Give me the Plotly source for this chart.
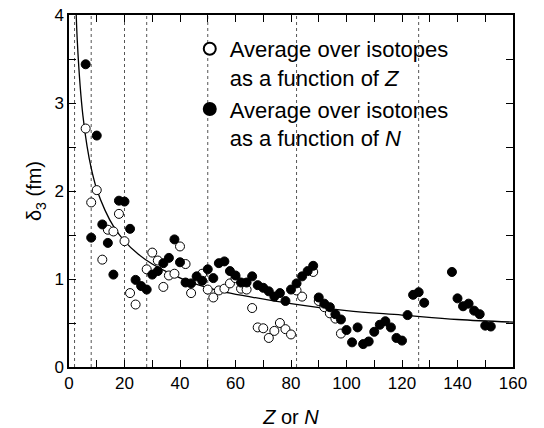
import plotly.graph_objects as go

# Average over isotopes (open circles), as a function of Z
iso_Z = [6, 8, 10, 12, 14, 16, 18, 20, 22, 24,
         28, 30, 32, 34, 36, 38, 40, 42, 44, 48,
         50, 52, 54, 56, 58, 60, 62, 64, 66, 68,
         70, 72, 74, 76, 78, 80, 82, 84, 88, 90,
         92, 94, 96, 98]
iso_delta = [2.71, 1.87, 2.01, 1.22, 1.56, 1.54, 1.74, 1.43, 0.84, 0.71,
             1.11, 1.30, 1.21, 0.91, 1.04, 1.06, 1.37, 1.17, 0.84, 1.06,
             0.88, 0.79, 0.87, 0.89, 0.95, 1.01, 0.89, 0.88, 0.67, 0.45,
             0.44, 0.33, 0.41, 0.50, 0.43, 0.37, 0.87, 0.80, 1.08, 0.75,
             0.68, 0.61, 0.55, 0.38]

# Average over isotones (filled circles), as a function of N
ton_N = [6, 8, 10, 12, 14, 16, 18, 20, 22, 24,
         26, 28, 30, 32, 34, 36, 38, 40, 42, 44,
         46, 48, 50, 52, 54, 56, 58, 60, 62, 64,
         66, 68, 70, 72, 74, 76, 78, 80, 82, 84,
         86, 88, 90, 92, 94, 96, 98, 100, 102, 104,
         106, 108, 110, 112, 114, 116, 118, 120, 122, 124,
         126, 128, 138, 140, 142, 144, 146, 148, 150, 152]
ton_delta = [3.44, 1.47, 2.63, 1.62, 1.41, 1.05, 1.89, 1.88, 1.57, 0.99,
             0.92, 0.88, 1.05, 1.09, 1.18, 1.24, 1.45, 1.19, 0.96, 0.95,
             1.03, 0.98, 1.11, 1.01, 1.18, 1.20, 1.09, 1.04, 0.96, 0.96,
             1.03, 0.93, 0.90, 0.86, 0.80, 0.84, 0.75, 0.88, 0.95, 1.03,
             1.09, 1.15, 0.79, 0.72, 0.68, 0.60, 0.54, 0.42, 0.28, 0.45,
             0.26, 0.29, 0.40, 0.48, 0.52, 0.45, 0.33, 0.30, 0.59, 0.82,
             0.85, 0.73, 1.08, 0.78, 0.69, 0.72, 0.64, 0.60, 0.47, 0.46]

# Fitted curve
curve_x = [2.6, 3, 4, 5, 6.5, 8, 10, 13, 16, 20, 25, 30, 36, 45, 55, 65, 80, 100, 120, 140, 160]
curve_y = [4.0, 3.7, 3.2, 2.86, 2.51, 2.26, 2.02, 1.78, 1.60, 1.43, 1.28, 1.17, 1.07, 0.95,
           0.86, 0.80, 0.72, 0.64, 0.59, 0.54, 0.51]

# Magic numbers (dotted vertical lines)
magic_numbers = [2, 8, 20, 28, 50, 82, 126]

# Ticks
x_tick_vals = [0, 10, 20, 30, 40, 50, 60, 70, 80, 90, 100, 110, 120, 130, 140, 150, 160]
x_tick_text = ["0", "", "20", "", "40", "", "60", "", "80", "", "100", "", "120", "", "140", "", "160"]
y_tick_vals = [0, 0.5, 1, 1.5, 2, 2.5, 3, 3.5, 4]
y_tick_text = ["0", "", "1", "", "2", "", "3", "", "4"]

FONT = "Liberation Sans, Arial, Helvetica, sans-serif"

fig = go.Figure()

fig.add_trace(go.Scatter(
    x=curve_x, y=curve_y, mode="lines", line=dict(color="black", width=1.3, shape="spline"),
    showlegend=False, hoverinfo="skip"))

fig.add_trace(go.Scatter(
    x=iso_Z, y=iso_delta, mode="markers",
    name="Average over isotopes<br>as a function of <i>Z</i>",
    marker=dict(symbol="circle", size=9, color="white", line=dict(color="black", width=1))))

fig.add_trace(go.Scatter(
    x=ton_N, y=ton_delta, mode="markers",
    name="Average over isotones<br>as a function of <i>N</i>",
    marker=dict(symbol="circle", size=9, color="black", line=dict(color="black", width=1))))

for m in magic_numbers:
    fig.add_shape(type="line", x0=m, x1=m, y0=0, y1=1, xref="x", yref="paper",
                  line=dict(color="#555555", width=1, dash="dot"), layer="below")

axis_common = dict(showline=True, linecolor="black", linewidth=1.5, mirror="ticks",
                   ticks="inside", ticklen=7, tickwidth=1.2, tickcolor="black",
                   showgrid=False, zeroline=False, automargin=False,
                   tickfont=dict(family=FONT, size=17, color="black"))

fig.update_xaxes(range=[0, 160], tickmode="array", tickvals=x_tick_vals, ticktext=x_tick_text,
                 title=dict(text="<i>Z</i> or <i>N</i>", font=dict(family=FONT, size=20, color="black"),
                            standoff=18),
                 **axis_common)
fig.update_yaxes(range=[0, 4], tickmode="array", tickvals=y_tick_vals, ticktext=y_tick_text,
                 title=dict(text="δ<sub>3</sub> (fm)", font=dict(family=FONT, size=20, color="black"),
                            standoff=7),
                 **axis_common)

fig.update_layout(
    width=544, height=428,
    margin=dict(l=69, r=31, t=15, b=61),
    paper_bgcolor="white", plot_bgcolor="white",
    font=dict(family=FONT, color="black"),
    legend=dict(x=0.272, y=0.963, xanchor="left", yanchor="top", valign="top",
                bgcolor="rgba(0,0,0,0)", borderwidth=0,
                font=dict(family=FONT, size=22, color="black"),
                itemsizing="constant", tracegroupgap=0),
)

fig.write_html("out.html", config={"displayModeBar": False},
               post_script="document.body.style.margin='0';")
